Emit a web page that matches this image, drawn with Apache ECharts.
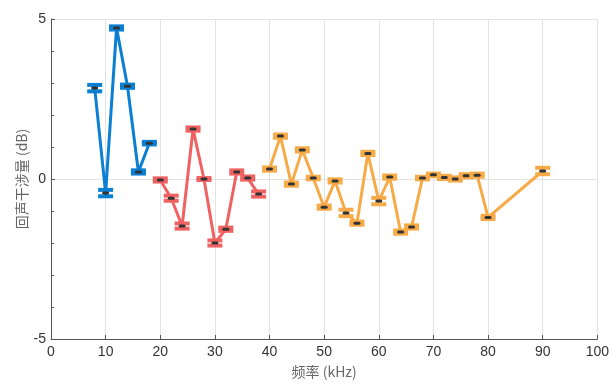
<!DOCTYPE html>
<html><head><meta charset="utf-8">
<script src="https://cdn.jsdelivr.net/npm/echarts@6/dist/echarts.min.js"></script>
<style>html,body{margin:0;padding:0;background:#fff}#c{width:612px;height:385px}</style>
</head><body><div id="c"></div>
<script>
const freqBlue = [8, 10, 12, 14, 16, 18];
const valBlue  = [2.84, -0.44, 4.72, 2.90, 0.22, 1.12];
const errBlue  = [0.10, 0.10, 0.05, 0.05, 0.05, 0.04];

const freqRed = [20, 22, 24, 26, 28, 30, 32, 34, 36, 38];
const valRed  = [-0.03, -0.60, -1.47, 1.56, 0.00, -2.00, -1.57, 0.22, 0.03, -0.47];
const errRed  = [0.05, 0.08, 0.08, 0.05, 0.03, 0.08, 0.05, 0.05, 0.05, 0.08];

const freqOrange = [40, 42, 44, 46, 48, 50, 52, 54, 56, 58, 60, 62, 64, 66, 68, 70, 72, 74, 76, 78, 80, 90];
const valOrange  = [0.31, 1.34, -0.16, 0.91, 0.03, -0.88, -0.06, -1.06, -1.38, 0.80, -0.69, 0.06, -1.66, -1.50, 0.03, 0.13, 0.05, 0.00, 0.10, 0.12, -1.20, 0.25];
const errOrange  = [0.05, 0.05, 0.05, 0.05, 0.04, 0.05, 0.05, 0.10, 0.05, 0.05, 0.10, 0.05, 0.05, 0.05, 0.04, 0.04, 0.05, 0.05, 0.05, 0.05, 0.05, 0.10];

const xTicks = [0, 10, 20, 30, 40, 50, 60, 70, 80, 90, 100];
const yTicks = [-5, 0, 5];

const colBlue = '#0a7fd4', colRed = '#f06262', colOrange = '#f7ab48';

function zip(f, v) { return f.map((x, i) => [x, v[i]]); }
function zip3(f, v, e) { return f.map((x, i) => [x, v[i], e[i]]); }

function errItem(color) {
  return function (params, api) {
    const x = api.value(0), y = api.value(1), e = api.value(2);
    const c = api.coord([x, y]);
    const top = api.coord([x, y + e]);
    const bot = api.coord([x, y - e]);
    const w = 15, h = 4;
    return {
      type: 'group',
      children: [
        {type: 'line', shape: {x1: c[0], y1: top[1], x2: c[0], y2: bot[1]}, style: {stroke: color, lineWidth: 3}},
        {type: 'rect', shape: {x: c[0] - w / 2, y: top[1] - h / 2, width: w, height: h}, style: {fill: color}},
        {type: 'rect', shape: {x: c[0] - w / 2, y: bot[1] - h / 2, width: w, height: h}, style: {fill: color}},
        {type: 'rect', shape: {x: c[0] - 3.5, y: c[1] - 1.5, width: 7, height: 3, r: 1.5}, style: {fill: '#333'}}
      ]
    };
  };
}

const chart = echarts.init(document.getElementById('c'), null, {renderer: 'canvas'});
const axisCol = '#555';
chart.setOption({
  animation: false,
  grid: {left: 51, right: 14, top: 19, bottom: 46, containLabel: false},
  xAxis: {
    type: 'value', min: 0, max: 100, interval: 10,
    name: '频率 (kHz)', nameLocation: 'middle', nameGap: 26, nameMoveOverlap: false,
    nameTextStyle: {color: '#666', fontSize: 14, fontFamily: 'Noto Sans CJK SC, Liberation Sans'},
    axisLine: {show: true, onZero: false, lineStyle: {color: axisCol, width: 1}},
    axisTick: {show: true, inside: true, length: 4, lineStyle: {color: axisCol}},
    axisLabel: {color: '#333', fontSize: 14, fontFamily: 'Liberation Sans, Arial', margin: 6,
      formatter: v => xTicks.includes(v) ? String(v) : ''},
    splitLine: {show: true, lineStyle: {color: '#e3e3e3', width: 1}}
  },
  yAxis: {
    type: 'value', min: -5, max: 5, interval: 5,
    name: '回声干涉量 (dB)', nameLocation: 'middle', nameGap: 22, nameRotate: 90, nameMoveOverlap: false,
    nameTextStyle: {color: '#666', fontSize: 14, fontFamily: 'Noto Sans CJK SC, Liberation Sans'},
    axisLine: {show: true, onZero: false, lineStyle: {color: axisCol, width: 1}},
    axisTick: {show: true, inside: true, length: 4, lineStyle: {color: axisCol}},
    minorTick: {show: true, splitNumber: 5, length: 3, lineStyle: {color: axisCol}},
    axisLabel: {color: '#333', fontSize: 14, fontFamily: 'Liberation Sans, Arial', margin: 5,
      formatter: v => yTicks.includes(v) ? String(v) : ''},
    splitLine: {show: true, lineStyle: {color: '#e3e3e3', width: 1}}
  },
  series: [
    {type: 'line', data: zip(freqBlue, valBlue), symbol: 'none', lineStyle: {color: colBlue, width: 3}, z: 2},
    {type: 'line', data: zip(freqRed, valRed), symbol: 'none', lineStyle: {color: colRed, width: 3}, z: 2},
    {type: 'line', data: zip(freqOrange, valOrange), symbol: 'none', lineStyle: {color: colOrange, width: 3}, z: 2},
    {type: 'custom', data: zip3(freqBlue, valBlue, errBlue), renderItem: errItem(colBlue), z: 3},
    {type: 'custom', data: zip3(freqRed, valRed, errRed), renderItem: errItem(colRed), z: 3},
    {type: 'custom', data: zip3(freqOrange, valOrange, errOrange), renderItem: errItem(colOrange), z: 3}
  ]
});
</script></body></html>
